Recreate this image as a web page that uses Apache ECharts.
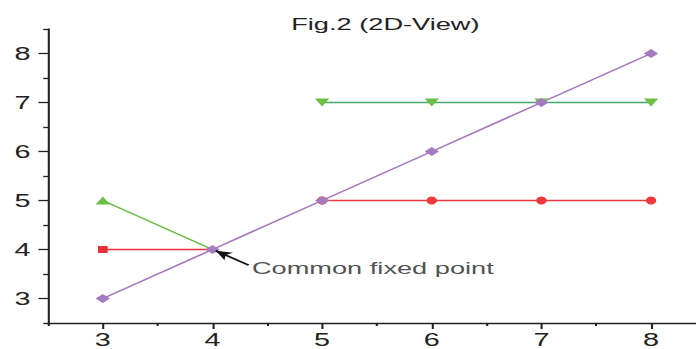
<!DOCTYPE html>
<html>
<head>
<meta charset="utf-8">
<script src="https://cdn.jsdelivr.net/npm/echarts@6/dist/echarts.min.js"></script>
<style>
html,body{margin:0;padding:0;background:#fff;overflow:hidden}
#wrap{width:696px;height:349px;overflow:hidden;position:relative}
#c{width:435px;height:349px;transform:scaleX(1.6);transform-origin:0 0;position:absolute;left:0;top:0}
</style>
</head>
<body>
<div id="wrap"><div id="c"></div></div>
<script>
const titleText = 'Fig.2 (2D-View)';
const majorTicks = [3, 4, 5, 6, 7, 8];
const minorTicksX = [2.5, 3.5, 4.5, 5.5, 6.5, 7.5];
const minorTicksY = [2.5, 3.5, 4.5, 5.5, 6.5, 7.5, 8.5];
const redSquare = [[3, 4], [4, 4]];
const redCircle = [[5, 5], [6, 5], [7, 5], [8, 5]];
const greenUp = [[3, 5], [4, 4]];
const greenDown = [[5, 7], [6, 7], [7, 7], [8, 7]];
const purpleDiag = [[3, 3], [4, 4], [5, 5], [6, 6], [7, 7], [8, 8]];
const annotText = 'Common fixed point';
const arrowFrom = [4.33, 3.68];
const arrowTo = [4.03, 3.975];
const labelAt = [4.36, 3.63];

const FONT = '"Liberation Sans", Arial, sans-serif';
const axisCommon = (max, ticks, len, labels, showLine, margin) => ({
  type: 'value', min: 2.5, max: max,
  splitLine: {show: false},
  axisLine: {show: showLine, onZero: false, lineStyle: {color: '#222', width: 1.3}},
  axisTick: {show: true, inside: false, length: len, customValues: ticks, lineStyle: {color: '#222', width: 1.3}},
  axisLabel: labels ? {show: true, customValues: ticks, color: '#222', fontSize: 18, fontFamily: FONT, margin: margin} : {show: false}
});

const chart = echarts.init(document.getElementById('c'), null, {renderer: 'svg', width: 435, height: 349});
const xMain = axisCommon(8.41, majorTicks, 6, true, true, 8);
const xMinor = axisCommon(8.41, minorTicksX, 3, false, false, 0);
const yMain = axisCommon(8.5, majorTicks, 6, true, true, 11);
const yMinor = axisCommon(8.5, minorTicksY, 3, false, false, 0);
xMain.position = 'bottom'; xMinor.position = 'bottom';
yMain.position = 'left'; yMinor.position = 'left';

const lineSeries = (data, color, lineColor, symbol, size) => ({
  type: 'line', data: data, xAxisIndex: 0, yAxisIndex: 0,
  symbol: symbol, symbolSize: size, showSymbol: true,
  itemStyle: {color: color},
  lineStyle: {color: lineColor, width: 1.5},
  animation: false
});

chart.setOption({
  animation: false,
  title: {text: titleText, left: 177, top: 11, textStyle: {fontSize: 17, fontWeight: 'normal', color: '#222', fontFamily: FONT}},
  grid: {left: 30, right: 0, top: 29, bottom: 20, containLabel: false},
  xAxis: [xMain, xMinor],
  yAxis: [yMain, yMinor],
  series: [
    lineSeries(redSquare.map((p, i) => i === redSquare.length - 1 ? {value: p, symbol: 'none'} : p), '#ee2e36', '#ee2e36', 'rect', [6, 7]),
    lineSeries(redCircle, '#ee3a3f', '#ee3a3f', 'circle', [6.5, 8]),
    lineSeries(greenUp.map((p, i) => i === greenUp.length - 1 ? {value: p, symbol: 'none'} : p), '#6cbe45', '#6cbe45', 'triangle', [9, 8]),
    lineSeries(greenDown, '#6cbe45', '#45a96e', 'path://M0,0 L10,0 L5,8 Z', [9, 8]),
    lineSeries(purpleDiag, '#a57bbf', '#a57bbf', 'diamond', [9, 9]),
    {
      type: 'scatter', data: [labelAt], symbolSize: 0, silent: true,
      label: {show: true, position: 'right', distance: 0, formatter: annotText, color: '#222', fontSize: 17, fontFamily: FONT},
      markLine: {
        silent: true, symbol: ['none', 'arrow'], symbolSize: [7, 10], label: {show: false},
        lineStyle: {color: '#111', width: 1.6, type: 'solid'},
        data: [[{coord: arrowFrom}, {coord: arrowTo}]]
      },
      z: 5
    }
  ]
});
</script>
</body>
</html>
